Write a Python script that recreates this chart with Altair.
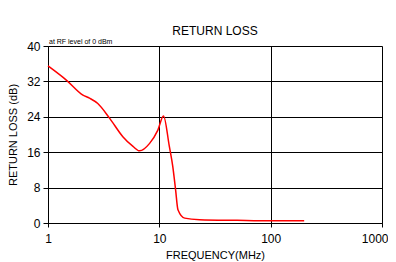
import altair as alt
import pandas as pd

freq = [1.0, 1.46, 2.06, 2.36, 2.8, 3.57, 4.7, 5.8, 6.64, 8.18, 9.7, 10.9, 12.3, 13.2, 14.0, 14.7, 16.9, 23.0, 50.0, 100.0, 200.0]
rl = [35.5, 32.3, 28.9, 28.2, 27.0, 23.7, 19.5, 17.3, 16.3, 18.0, 21.0, 24.2, 17.3, 12.8, 7.5, 3.0, 1.1, 0.75, 0.6, 0.5, 0.5]
x_ticks = [1, 10, 100, 1000]
y_ticks = [0, 8, 16, 24, 32, 40]

df = pd.DataFrame({"f": freq, "rl": rl})
FONT = "Liberation Sans"

line = alt.Chart(df).mark_line(color="#ff0000", strokeWidth=1.5, interpolate="monotone").encode(
    x=alt.X("f:Q", scale=alt.Scale(type="log", domain=[1, 1000]),
            axis=alt.Axis(values=x_ticks, title="FREQUENCY(MHz)",
                          labelExpr="datum.value", grid=True, gridColor="#000000",
                          gridOpacity=1, tickColor="#000000", tickSize=4,
                          domainColor="#000000", labelFontSize=12, titleFontSize=11,
                          titleFontWeight="normal", labelPadding=6, titlePadding=5,
                          labelFlush=False, labelOverlap=False, labelBound=False,
                          labelAlign={"condition": {"test": "datum.value == 1000", "value": "right"}, "value": "center"},
                          labelOffset={"condition": {"test": "datum.value == 1000", "value": 6}, "value": 0},
                          labelColor="#000000", titleColor="#000000",
                          labelFont=FONT, titleFont=FONT)),
    y=alt.Y("rl:Q", scale=alt.Scale(domain=[0, 40]),
            axis=alt.Axis(values=y_ticks, title="RETURN LOSS (dB)", grid=True,
                          gridColor="#000000", gridOpacity=1, tickColor="#000000",
                          tickSize=5, domainColor="#000000", labelFontSize=12,
                          titleFontSize=11, titleFontWeight="normal", labelPadding=3,
                          labelFlush=False, labelOverlap=False,
                          titlePadding=8, labelColor="#000000", titleColor="#000000",
                          labelFont=FONT, titleFont=FONT)),
)

note = alt.Chart(pd.DataFrame({"t": ["at RF level of 0 dBm"]})).mark_text(
    align="left", baseline="bottom", fontSize=7, font=FONT, color="#000000"
).encode(x=alt.value(1), y=alt.value(-1), text="t:N")

chart = alt.layer(line, note).properties(
    width=334, height=177,
    title=alt.TitleParams("RETURN LOSS", fontSize=12, font=FONT, fontWeight="normal",
                          color="#000000", offset=0, anchor="middle"),
    autosize=alt.AutoSizeParams(type="none"),
    padding={"left": 40, "top": 38, "right": 6, "bottom": 40},
).configure_view(stroke="#000000", strokeWidth=1).configure(background="white")

chart.save("out.html", embed_options={"renderer": "svg", "actions": False})
